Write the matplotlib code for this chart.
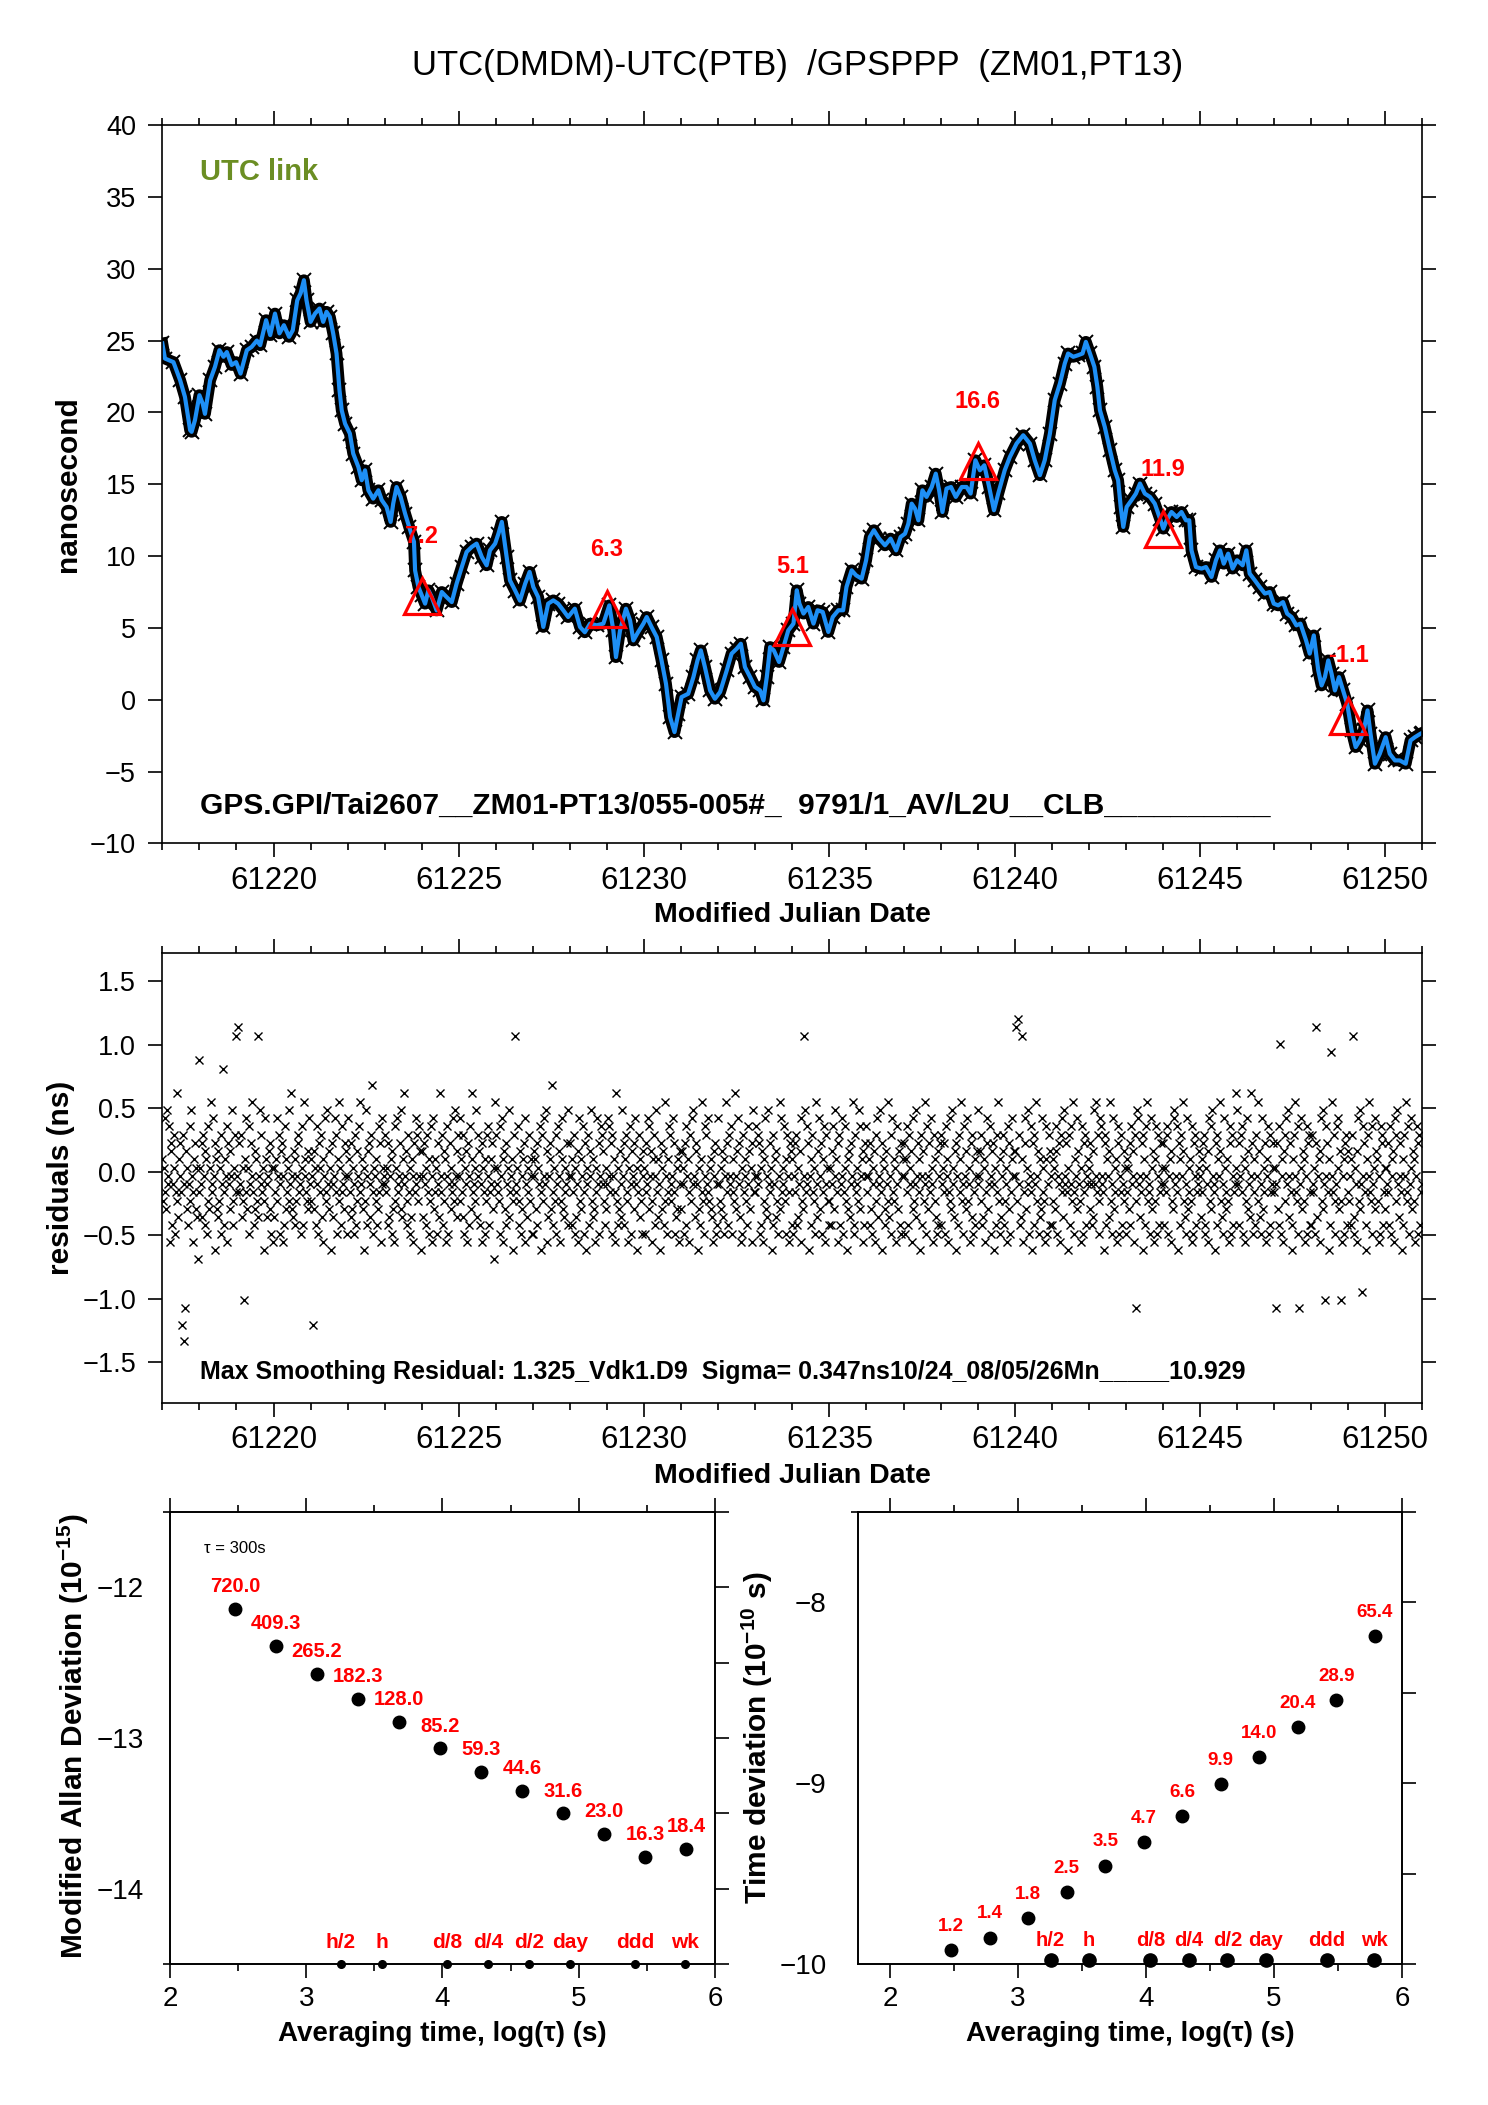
import numpy as np
import matplotlib
matplotlib.use("Agg")
import matplotlib.pyplot as plt
from matplotlib.ticker import MultipleLocator, FixedLocator, StrMethodFormatter

plt.rcParams['font.family'] = ['Liberation Sans', 'DejaVu Sans']
plt.rcParams['mathtext.fontset'] = 'custom'
plt.rcParams['mathtext.rm'] = 'Liberation Sans'
plt.rcParams['mathtext.bf'] = 'Liberation Sans:bold'
plt.rcParams['axes.linewidth'] = 1.2

MJD0 = 61217

# smoothed link (blue curve): days after MJD0, nanoseconds
t_smooth = [0.00, 0.07, 0.30, 0.48, 0.61, 0.75, 0.79, 0.88, 1.00, 1.09, 1.15, 1.29, 1.42, 1.54, 1.65,
            1.74, 1.87, 1.99, 2.11, 2.28, 2.41, 2.55, 2.64, 2.80, 2.91, 3.04, 3.16, 3.28, 3.42, 3.52,
            3.64, 3.73, 3.82, 3.89, 4.00, 4.12, 4.24, 4.34, 4.43, 4.52, 4.61, 4.70, 4.78, 4.84, 4.93,
            5.06, 5.15, 5.29, 5.38, 5.47, 5.56, 5.69, 5.83, 5.92, 6.05, 6.16, 6.23, 6.32, 6.43, 6.55,
            6.66, 6.79, 6.82, 6.91, 7.00, 7.09, 7.18, 7.27, 7.40, 7.54, 7.67, 7.81, 7.94, 8.08, 8.21,
            8.35, 8.48, 8.62, 8.75, 8.84, 8.98, 9.07, 9.16, 9.29, 9.38, 9.52, 9.65, 9.79, 9.91, 10.01,
            10.14, 10.28, 10.41, 10.55, 10.68, 10.82, 10.95, 11.13, 11.27, 11.40, 11.54, 11.72, 11.90,
            12.06, 12.17, 12.24, 12.35, 12.51, 12.62, 12.71, 12.84, 12.98, 13.07, 13.20, 13.34, 13.47,
            13.59, 13.70, 13.82, 13.92, 14.01, 14.19, 14.33, 14.44, 14.53, 14.64, 14.78, 14.91, 15.05,
            15.23, 15.36, 15.50, 15.61, 15.72, 15.86, 15.99, 16.13, 16.22, 16.31, 16.40, 16.50, 16.64,
            16.76, 16.89, 17.03, 17.12, 17.19, 17.30, 17.43, 17.57, 17.68, 17.82, 17.97, 18.09, 18.24,
            18.37, 18.46, 18.60, 18.72, 18.87, 18.99, 19.09, 19.20, 19.34, 19.50, 19.65, 19.80, 19.92,
            20.04, 20.13, 20.22, 20.31, 20.40, 20.51, 20.62, 20.76, 20.87, 20.96, 21.05, 21.16, 21.28,
            21.41, 21.57, 21.70, 21.81, 21.94, 22.06, 22.18, 22.31, 22.44, 22.56, 22.73, 22.87, 23.05,
            23.23, 23.41, 23.54, 23.68, 23.81, 23.95, 24.08, 24.22, 24.35, 24.44, 24.58, 24.71, 24.83,
            24.92, 25.03, 25.15, 25.23, 25.30, 25.43, 25.57, 25.70, 25.79, 25.86, 25.93, 26.02, 26.15,
            26.27, 26.38, 26.51, 26.65, 26.78, 26.92, 27.01, 27.10, 27.23, 27.37, 27.50, 27.62, 27.71,
            27.77, 27.89, 28.04, 28.16, 28.31, 28.43, 28.54, 28.64, 28.76, 28.88, 29.00, 29.15, 29.25,
            29.34, 29.48, 29.61, 29.75, 29.88, 29.99, 30.11, 30.24, 30.35, 30.47, 30.60, 30.71, 30.86,
            30.96, 31.07, 31.19, 31.28, 31.37, 31.46, 31.55, 31.64, 31.75, 31.86, 31.97, 32.09, 32.20,
            32.31, 32.42, 32.52, 32.60, 32.72, 32.85, 33.01, 33.12, 33.26, 33.39, 33.55, 33.68, 33.80,
            33.95, 34.00]
v_smooth = [24.8, 23.75, 23.5, 22.24, 21.08, 18.76, 18.65, 19.46, 21.2, 20.6, 19.9, 22.24, 23.17, 24.33, 23.87,
            24.2, 23.3, 23.5, 22.7, 24.33, 24.56, 25.0, 24.68, 26.42, 25.38, 26.88, 25.5, 26.07, 25.26, 25.72,
            27.8, 28.28, 29.2, 27.8, 26.3, 26.88, 27.23, 26.3, 27.0, 26.65, 25.5, 24.1, 21.55, 20.15, 19.22,
            18.53, 17.14, 16.2, 15.28, 15.97, 14.58, 14.0, 14.58, 13.9, 13.42, 12.38, 13.66, 14.81, 14.12, 12.96,
            12.03, 11.0, 9.0, 7.85, 7.27, 6.69, 7.62, 7.15, 6.22, 7.5, 7.15, 6.8, 8.08, 9.24, 10.29,
            10.64, 10.87, 9.94, 9.36, 10.4, 10.87, 11.57, 12.38, 9.94, 8.31, 7.6, 6.9, 8.08, 8.9, 7.85,
            7.15, 5.07, 6.69, 6.92, 6.69, 6.22, 5.76, 6.34, 5.07, 4.7, 5.3, 5.18, 5.3,
            6.57, 4.83, 2.97, 4.83, 6.34, 5.53, 4.13, 4.72, 5.3, 5.76, 5.07, 4.37, 2.74,
            1.12, -1.2, -2.25, -0.97, 0.19, 0.42, 1.58, 2.74, 3.44, 2.28, 0.65, 0.07, 0.54,
            2.05, 3.21, 3.56, 3.9, 2.28, 1.58, 0.89, 0.65, -0.04, 1.58, 3.67, 3.44, 2.63,
            3.67, 4.83, 5.3, 7.62, 6.69, 6.0, 6.46, 5.3, 6.23, 6.11, 4.72, 5.76, 6.23,
            6.23, 7.85, 9.01, 8.66, 8.43, 9.71, 11.33, 11.8, 11.22, 10.75, 11.22, 10.4, 11.33,
            11.56, 12.26, 13.65, 13.3, 12.49, 14.58, 14.12, 14.81, 15.74, 14.58, 13.07, 14.7, 14.81,
            14.12, 14.81, 14.81, 14.35, 16.67, 15.97, 16.32, 14.81, 13.19, 14.4, 15.97, 16.9, 17.83,
            18.41, 17.83, 16.67, 15.63, 16.67, 18.53, 20.85, 22.01, 23.4, 24.1, 23.87, 23.98, 24.1,
            24.91, 24.1, 23.17, 21.78, 20.15, 18.99, 17.37, 15.97, 15.28, 13.42, 12.03, 13.42, 13.89,
            14.35, 15.05, 14.35, 14.12, 13.65, 12.61, 11.91, 12.49, 13.07, 12.72, 13.07, 12.49, 12.49,
            10.4, 9.24, 9.13, 9.24, 8.55, 9.71, 10.4, 9.47, 10.17, 9.13, 9.71, 9.36, 10.4,
            8.78, 8.31, 7.85, 7.39, 7.5, 6.69, 6.57, 6.8, 6.0, 5.76, 5.18, 5.3, 4.14,
            3.21, 4.48, 2.05, 1.0, 1.58, 2.74, 1.81, 0.65, 1.58, 0.65, -0.27, -2.13, -3.29,
            -2.83, -2.13, -0.74, -2.36, -4.45, -3.76, -2.6, -3.76, -4.22, -4.22, -4.45, -2.83, -2.6,
            -2.36, -2.3]

# daily check points (red triangles)
tri_day = [7, 12, 17, 22, 27, 32]
tri_val = [7.2, 6.3, 5.1, 16.6, 11.9, -1.1]

# residuals, one string per day; letter n-th of alphabet = (n - 0.5) * 0.065 ns,
# lower case negative, upper case positive
res_rows = [
    "BdAcGeHbaFiDCgbEAhcJdfBaDcsEbuqCeAgbFdHaciBDeAfkN",
    "cAbDfEaCgBhdFeAIbcGaDjBeCfdAhEbMgcBaFiDbeCaHdgAEc",
    "QaRcDbEfAdpBGceAhFbDaIcgCeBdQfaHbEcAjdGBbfaCeDhAi",
    "AfcBdGaEhbCDaigFeBcAHdbJaefCBgdaDEcbhAFgIaBcdeCGb",
    "dBasCeAgFbhDcAEfiBaGdcHbeCAjDfbaGEchBdIAgcFbeaDCh",
    "GaBcfDeAhbEgCdaFIcbBejAdHgaCDbfEKchAaBdgeFcDibGAa",
    "bEcAgDfaBhCeiFdAGbcaDHefBbJaCgdEcAhfBiaDcGbEdaFCj",
    "CfaDbgAEchBdFiaGecBAhbDfJcaEgdCBiaFhbDAecGbdHafCE",
    "aGdBcEfhAbCiDgaFeBJcbdAHfaECgbDiAchBdEFagcBbDeAkI",
    "EbAcdFhaGBiCeDgbAfHcaBjdEQcbAFgdCheaBDiGbfcAEdaBh",
    "hCaBeDgAbFcjEdaGbHiCfaDBeKcgAdEhbFaCidBGefAcbDHga",
    "DagBcEhAfbCiGdeBaFchDjAbEgCaHdBfeiAcGbDhaFECbdgAe",
    "bGaFcDhEaBicJdgAeCbfHaDgBEdciAFbhCaeDGbjAcEfBdhaC",
    "AhcDbGeFaCidBEgaHcfBbjDAeCgdIahBcFEdbaGcDhfAeBiCb",
    "eCbAhDgFaBicEdGbHafCDbjeAgBcIdhaFEbcGdAeBfiaCDhbg",
    "GbdAeCfhBaIcDgEbaFhcBdJaeCGbDfiAhEcaBdgFbCeAiDHca",
    "cFaEbDhgACiBdGefaHbcDAjEgbBfCdhaIeGcAbFdhBEaciDCg",
    "BhaDcEgfAbCiGdeQaHcbFDjaBgEcdAhIfbCGaeDhBcFibEAdg",
    "dAgCbFeHaBciDEgbaGhcFAdjBeCfbDaIhgEcAbdHFeaBCigDa",
    "FcaBgDehAbCiEdGfbaHcDjBAegCbIdfaEhGcBdAibFeCgDhaB",
    "aDhBcFgEbACieGdbHfaDcBjEagCdIbhFeaDcGAbiEdBfhCgaD",
    "EgbAcDhFaBicGdeHbAfCjDagEBcIdhbFaeCGdAbiDfEhcBgaC",
    "bHaCdEgfBAicDGebFahCDjbAgEcIdBhfaECgdAbiFDehcBGaC",
    "CaRdSbEgfBQicDGeAbHhaFcjDEgbIadChBfeGcAdiBFhbEgCa",
    "gBdAeCFhaDbiEcGfHbaDcjAEgbFdIchBaeGCbdiAFhDcEgbaB",
    "AeDbgCfHbaIcEdhGFabcjDEgBaCfIdhbGeAcBiFDhaEcgbdCA",
    "hBcAeDgFbaCiEqdHGbfacDjEBgaFIdcbhGAeCidBFhEagcDbA",
    "DbgAcEFhaBiCdeGHbaFcjDBgEaCIdfbhGeAcBdiFhDEagcbAC",
    "afBcDEhgAbiCGdeFHabcjDgEBaICdfhbGAecBdiFDhEgacbAJ",
    "HbDgaEcFhBiAdGCebfJaDhcBgEaIdCfbhGeAcDiBaFhEgcbDA",
    "cAqbDeFgPhaBiCEdGbHfaDcjgBEaIcdFhqbAGeCBdiaFhDEgc",
    "gEcbAhDRfaBiCGdHebpFaDcjBgOaIcEdhbFAGeCpdiaBhDEgc",
    "CdaBgEQfhAbiCGdeHboFaDcjgBEaIcdFhbAGeCBdiahFDEgcA",
    "eAbDcgFhaBCiGdEHbfaDcjBgEaIcdFhbAGeCBdiaFhDEgcb",
]

# frequency stability (labels are the plotted values)
tau_s = [300, 600, 1200, 2400, 4800, 9600, 19200, 38400, 76800, 153600, 307200, 614400]
mdev_e15 = [720.0, 409.3, 265.2, 182.3, 128.0, 85.2, 59.3, 44.6, 31.6, 23.0, 16.3, 18.4]
tdev_e10 = [1.2, 1.4, 1.8, 2.5, 3.5, 4.7, 6.6, 9.9, 14.0, 20.4, 28.9, 65.4]

mark_tau = [1800, 3600, 10800, 21600, 43200, 86400, 259200, 604800]
mark_lab = ['h/2', 'h', 'd/8', 'd/4', 'd/2', 'day', 'ddd', 'wk']

BLUE = '#1e8ff5'
OLIVE = '#6b8e23'


def code_to_ns(ch):
    if ch.islower():
        return -(ord(ch) - 96.5) * 0.065
    return (ord(ch) - 64.5) * 0.065


res_t, res_v = [], []
for k, row in enumerate(res_rows):
    for i, ch in enumerate(row):
        res_t.append(MJD0 + k + i / len(row))
        res_v.append(code_to_ns(ch))

mjd_s = MJD0 + np.array(t_smooth)

fig = plt.figure(figsize=(14.88, 21.05), dpi=100)
ax1 = fig.add_axes([0.1091, 0.5993, 0.8468, 0.3413])
ax2 = fig.add_axes([0.1091, 0.3335, 0.8468, 0.2136])
ax3 = fig.add_axes([0.1142, 0.0670, 0.3663, 0.2147])
ax4 = fig.add_axes([0.5766, 0.0670, 0.3656, 0.2147])

fig.text(0.5363, 0.9691, 'UTC(DMDM)-UTC(PTB)  /GPSPPP  (ZM01,PT13)', fontsize=25,
         ha='center', va='center')

# ---- top panel
ax1.plot(mjd_s, v_smooth, color='k', lw=8.5, solid_joinstyle='round')
ax1.plot(mjd_s, v_smooth, 'x', color='k', ms=10, mew=1.4)
ax1.plot(mjd_s, v_smooth, color=BLUE, lw=3)
for d, v in zip(tri_day, tri_val):
    ax1.plot(MJD0 + d, v, '^', ms=26, mfc='none', mec='red', mew=2.3, zorder=5)
    ax1.annotate('%.1f' % v, (MJD0 + d, v), xytext=(0, 43), textcoords='offset points',
                 ha='center', va='center', color='red', fontsize=17, fontweight='bold', zorder=6)
ax1.text(0.030, 0.935, 'UTC link', color=OLIVE, fontsize=21, fontweight='bold',
         va='center', transform=ax1.transAxes)
ax1.text(0.030, 0.053, 'GPS.GPI/Tai2607__ZM01-PT13/055-005#_  9791/1_AV/L2U__CLB__________',
         fontsize=21.5, fontweight='bold', va='center', transform=ax1.transAxes)
ax1.set_ylim(-10, 40)
ax1.yaxis.set_major_locator(MultipleLocator(5))
ax1.set_ylabel('nanosecond', fontsize=21.5, fontweight='bold')
ax1.yaxis.set_label_coords(-0.0748, 0.5)

# ---- residual panel
ax2.plot(res_t, res_v, 'x', color='k', ms=5.5, mew=1.0)
ax2.text(0.030, 0.069,
         'Max Smoothing Residual: 1.325_Vdk1.D9  Sigma= 0.347ns10/24_08/05/26Mn_____10.929',
         fontsize=18, fontweight='bold', va='center', transform=ax2.transAxes)
ax2.set_ylim(-1.82, 1.72)
ax2.yaxis.set_major_locator(MultipleLocator(0.5))
ax2.set_ylabel('residuals (ns)', fontsize=21.5, fontweight='bold')
ax2.yaxis.set_label_coords(-0.0804, 0.5)

for ax, ylab_y in ((ax1, -0.0995), (ax2, -0.162)):
    ax.set_xlim(61217, 61251)
    ax.xaxis.set_major_locator(MultipleLocator(5))
    ax.xaxis.set_minor_locator(MultipleLocator(1))
    ax.xaxis.set_major_formatter(StrMethodFormatter('{x:.0f}'))
    ax.tick_params(which='both', direction='out', top=True, right=True, width=1.2)
    ax.tick_params(which='major', length=10)
    ax.tick_params(which='minor', length=5)
    ax.tick_params(axis='y', which='minor', left=False, right=False)
    ax.tick_params(axis='x', labelsize=22.5, pad=6)
    ax.tick_params(axis='y', labelsize=19.5, pad=9)
    ax.set_xlabel('Modified Julian Date', fontsize=20.5, fontweight='bold')
    ax.xaxis.set_label_coords(0.5, ylab_y)
    ax.xaxis.label.set_va('center')
    ax.yaxis.label.set_va('center')

# ---- stability panels
log_tau = np.log10(tau_s)
log_mark = np.log10(mark_tau)

ax3.plot(log_tau, np.log10(mdev_e15) - 15, 'o', color='k', ms=9)
for x, m in zip(log_tau, mdev_e15):
    ax3.annotate('%.1f' % m, (x, np.log10(m) - 15), xytext=(0, 16), textcoords='offset points',
                 ha='center', va='center', color='red', fontsize=14.5, fontweight='bold')
ax3.text(0.063, 0.919, '\u03c4 = 300s', fontsize=12, va='center', transform=ax3.transAxes)
ax3.set_xlim(2, 6)
ax3.set_ylim(-14.5, -11.5)
ax3.yaxis.set_major_locator(FixedLocator([-14, -13, -12]))
ax3.set_ylabel('Modified Allan Deviation (10$^{\\mathbf{-15}}$)', fontsize=21.5, fontweight='bold')
ax3.yaxis.set_label_coords(-0.1785, 0.504)

ax4.plot(log_tau, np.log10(tdev_e10) - 10, 'o', color='k', ms=9)
for x, m in zip(log_tau, tdev_e10):
    ax4.annotate('%.1f' % m, (x, np.log10(m) - 10), xytext=(0, 17), textcoords='offset points',
                 ha='center', va='center', color='red', fontsize=13.5, fontweight='bold')
ax4.set_xlim(1.75, 6.0)
ax4.set_ylim(-10, -7.5)
ax4.yaxis.set_major_locator(FixedLocator([-10, -9, -8]))
ax4.set_ylabel('Time deviation (10$^{\\mathbf{-10}}$ s)', fontsize=21.5, fontweight='bold')
ax4.yaxis.set_label_coords(-0.186, 0.5)

for ax, ms_mark, mark_y, lab_y, fs, ypad in ((ax3, 5.5, 0.0, 0.048, 15, 18.5),
                                             (ax4, 9.5, 0.008, 0.053, 14.5, 22.5)):
    ax.plot(log_mark, [mark_y] * len(log_mark), 'o', color='k', ms=ms_mark,
            transform=ax.get_xaxis_transform(), clip_on=False)
    for x, lab in zip(log_mark, mark_lab):
        ax.text(x, lab_y, lab, transform=ax.get_xaxis_transform(), ha='center', va='center',
                color='red', fontsize=fs, fontweight='bold')
    ax.xaxis.set_major_locator(MultipleLocator(1))
    ax.xaxis.set_minor_locator(MultipleLocator(0.5))
    ax.tick_params(axis='x', which='both', direction='out', top=True, width=1.2)
    ax.tick_params(axis='x', which='major', length=10, labelsize=20, pad=6)
    ax.tick_params(axis='x', which='minor', length=5)
    ax.tick_params(axis='y', which='major', length=0, labelsize=20, pad=ypad, right=False)
    ax.yaxis.set_minor_locator(FixedLocator(list(ax.get_ylim())))
    ax.tick_params(axis='y', which='minor', direction='out', length=5, width=1.2, right=False)
    ax.set_xlabel('Averaging time, log(\u03c4) (s)', fontsize=20, fontweight='bold')
    ax.xaxis.set_label_coords(0.5, -0.155)
    ax.xaxis.label.set_va('center')
    ax.yaxis.label.set_va('center')
    axr = ax.twinx()
    axr.set_ylim(ax.get_ylim())
    axr.yaxis.set_major_locator(MultipleLocator(0.5))
    axr.tick_params(axis='y', direction='out', length=10, width=1.2, labelright=False)

fig.savefig('out.png', dpi=100)
